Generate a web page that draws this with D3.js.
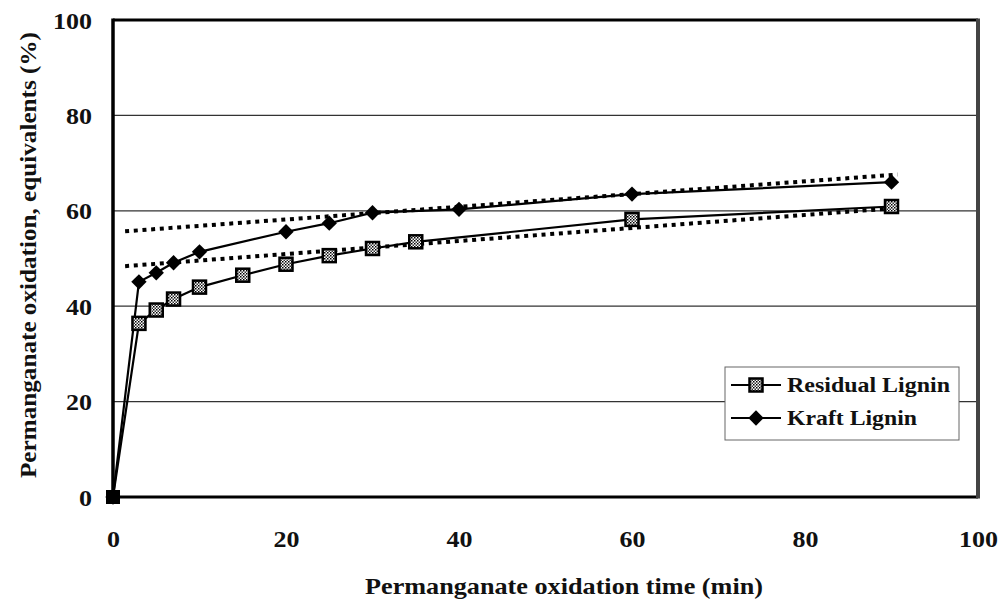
<!DOCTYPE html>
<html><head><meta charset="utf-8">
<script src="https://cdn.jsdelivr.net/npm/d3@7"></script>
<style>
html,body{margin:0;padding:0;background:#fff;}
text{font-family:"Liberation Serif","Times New Roman",serif;font-weight:bold;fill:#111;}
</style>
</head><body>
<svg id="chart" width="999" height="599"></svg>
<script>
const xTicks = [0, 20, 40, 60, 80, 100];
const yTicks = [0, 20, 40, 60, 80, 100];
const residualTime = [0, 3, 5, 7, 10, 15, 20, 25, 30, 35, 60, 90];
const residualValues = [0, 36.4, 39.2, 41.5, 44.0, 46.5, 48.8, 50.6, 52.1, 53.5, 58.2, 60.9];
const kraftTime = [0, 3, 5, 7, 10, 20, 25, 30, 40, 60, 90];
const kraftValues = [0, 45.1, 47.0, 49.1, 51.4, 55.6, 57.4, 59.6, 60.3, 63.5, 66.0];
const residualTrendTime = [1.4, 90];
const residualTrendValues = [48.4, 60.5];
const kraftTrendTime = [1.4, 90.7];
const kraftTrendValues = [55.7, 67.6];
const seriesNames = ["Residual Lignin", "Kraft Lignin"];
const xTitle = "Permanganate oxidation time (min)";
const yTitle = "Permanganate oxidation, equivalents (%)";

const svg = d3.select("#chart");
const L = 113, R = 978, T = 20, B = 497;
const x = d3.scaleLinear().domain([0, 100]).range([L, R]);
const y = d3.scaleLinear().domain([0, 100]).range([B, T]);

// pattern for square markers
const defs = svg.append("defs");
const pat = defs.append("pattern").attr("id", "chk").attr("patternUnits", "userSpaceOnUse")
  .attr("width", 3).attr("height", 3);
pat.append("rect").attr("width", 3).attr("height", 3).attr("fill", "#fff");
pat.append("rect").attr("width", 1.5).attr("height", 1.5).attr("fill", "#000");
pat.append("rect").attr("x", 1.5).attr("y", 1.5).attr("width", 1.5).attr("height", 1.5).attr("fill", "#333");

// gridlines
svg.append("g").selectAll("line").data(yTicks.filter(d => d > 0 && d < 100)).join("line")
  .attr("x1", L).attr("x2", R).attr("y1", d => y(d)).attr("y2", d => y(d))
  .attr("stroke", "#333").attr("stroke-width", 1.2);

// axes (labels only)
const yAxis = d3.axisLeft(y).tickValues(yTicks).tickSize(0).tickPadding(21);
const gy = svg.append("g").attr("transform", `translate(${L},0)`).call(yAxis);
gy.select(".domain").remove();
gy.selectAll("text").style("font-size", "23px").attr("dy", "0.35em")
  .attr("textLength", d => String(d).length * 13).attr("lengthAdjust", "spacingAndGlyphs");

const xAxis = d3.axisBottom(x).tickValues(xTicks).tickSize(0).tickPadding(34);
const gx = svg.append("g").attr("transform", `translate(0,${B})`).call(xAxis);
gx.select(".domain").remove();
gx.selectAll("text").style("font-size", "23px")
  .attr("textLength", d => String(d).length * 13).attr("lengthAdjust", "spacingAndGlyphs");

// trendlines
const line = d3.line().x(d => x(d[0])).y(d => y(d[1]));
const trends = [d3.zip(residualTrendTime, residualTrendValues), d3.zip(kraftTrendTime, kraftTrendValues)];
svg.append("g").selectAll("path").data(trends).join("path")
  .attr("d", line).attr("fill", "none").attr("stroke", "#000")
  .attr("stroke-width", 4).attr("stroke-dasharray", "4 4.7");

// series lines
const resPts = d3.zip(residualTime, residualValues);
const kraPts = d3.zip(kraftTime, kraftValues);
svg.append("path").datum(kraPts).attr("d", line).attr("fill", "none").attr("stroke", "#000").attr("stroke-width", 2.2);
svg.append("path").datum(resPts).attr("d", line).attr("fill", "none").attr("stroke", "#000").attr("stroke-width", 2.2);

// markers
const diamond = d3.symbol().type(d3.symbolDiamond2).size(150);
function drawDiamond(g, px, py) {
  g.append("path").attr("d", diamond()).attr("transform", `translate(${px},${py})`).attr("fill", "#000");
}
function drawSquare(g, px, py) {
  g.append("rect").attr("x", px - 6.5).attr("y", py - 6.5).attr("width", 13).attr("height", 13)
    .attr("fill", "url(#chk)").attr("stroke", "#000").attr("stroke-width", 2.5);
}
const mk = svg.append("g");
kraPts.forEach(d => drawDiamond(mk, x(d[0]), y(d[1])));
resPts.forEach((d, i) => {
  if (i === 0) {
    mk.append("rect").attr("x", x(d[0]) - 7).attr("y", y(d[1]) - 7).attr("width", 14).attr("height", 14).attr("fill", "#000");
  } else drawSquare(mk, x(d[0]), y(d[1]));
});

// frame
svg.append("line").attr("x1", L).attr("x2", L).attr("y1", T - 1.5).attr("y2", B + 1.5).attr("stroke", "#000").attr("stroke-width", 3.5);
svg.append("line").attr("x1", L).attr("x2", R).attr("y1", T).attr("y2", T).attr("stroke", "#000").attr("stroke-width", 3);
svg.append("line").attr("x1", L).attr("x2", R).attr("y1", B).attr("y2", B).attr("stroke", "#000").attr("stroke-width", 3);
svg.append("line").attr("x1", R).attr("x2", R).attr("y1", T - 1.5).attr("y2", B + 1.5).attr("stroke", "#444").attr("stroke-width", 4);

// legend
const lg = svg.append("g");
lg.append("rect").attr("x", 725).attr("y", 367).attr("width", 234).attr("height", 73)
  .attr("fill", "#fff").attr("stroke", "#666").attr("stroke-width", 1);
const legendLens = [163, 130];
seriesNames.forEach((name, i) => {
  const cy = 385 + i * 33;
  lg.append("line").attr("x1", 731).attr("x2", 781).attr("y1", cy).attr("y2", cy).attr("stroke", "#000").attr("stroke-width", 2.2);
  if (i === 0) drawSquare(lg, 756, cy); else drawDiamond(lg, 756, cy);
  lg.append("text").attr("x", 787).attr("y", cy).attr("dy", "0.35em").style("font-size", "21px")
    .attr("textLength", legendLens[i]).attr("lengthAdjust", "spacingAndGlyphs").text(name);
});

// titles
svg.append("text").attr("x", 564).attr("y", 594).attr("text-anchor", "middle").style("font-size", "23px")
  .attr("textLength", 398).attr("lengthAdjust", "spacingAndGlyphs").text(xTitle);
svg.append("text").attr("transform", "translate(36,255) rotate(-90)").attr("text-anchor", "middle")
  .style("font-size", "23px").attr("textLength", 446).attr("lengthAdjust", "spacingAndGlyphs").text(yTitle);
</script>
</body></html>
